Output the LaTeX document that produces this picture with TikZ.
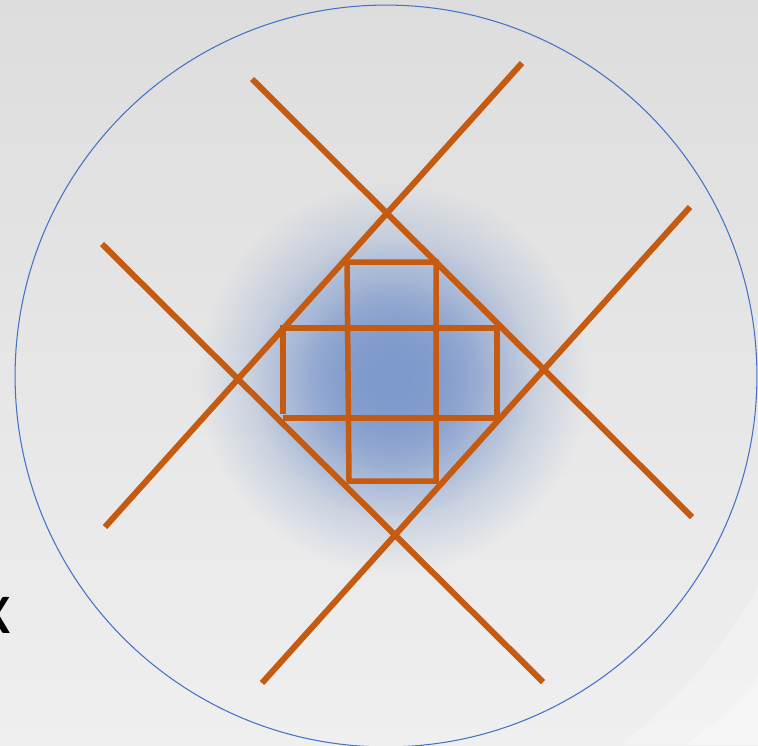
\documentclass[tikz,border=0pt]{standalone}
\usepackage{fontspec}
\setmainfont{Carlito}
\usetikzlibrary{fadings}

\definecolor{gridorange}{HTML}{C55A11}
\definecolor{ringblue}{HTML}{4472C4}
\definecolor{blobblue}{HTML}{7D99CC}
\definecolor{bgtop}{HTML}{DDDDDD}
\definecolor{bgbottom}{HTML}{EFEFEF}

% soft edge of the blue blob
\tikzfading[name=blobfade, inner color=transparent!0, outer color=transparent!100]

\begin{document}
\begin{tikzpicture}[x=0.02cm, y=-0.02cm,
    diag/.style={draw=gridorange, line width=0.12cm},
    cell/.style={draw=gridorange, line width=0.11cm, miter limit=4},
    ring/.style={draw=ringblue, line width=0.6pt}]
			\useasboundingbox (0,0) rectangle (758,745);
			\shade[top color=bgtop, bottom color=bgbottom] (0,0) rectangle (758,745);
			\fill[white, opacity=0.25] (620,745) .. controls (680,700) and (730,640) .. (758,585) -- (758,745) -- cycle;
			\fill[white, opacity=0.25] (685,745) .. controls (720,720) and (745,700) .. (758,675) -- (758,745) -- cycle;
			\node[anchor=base east, inner sep=0pt, font=\fontsize{43}{43}\selectfont](X) at (12, 633){x};
			\fill[blobblue, path fading=blobfade] (393, 378) circle (3.9cm);
			\fill[blobblue, path fading=blobfade, fill opacity=0.8] (393, 378) circle (2.8cm);
			\fill[blobblue, path fading=blobfade, fill opacity=0.8] (393, 378) circle (1.9cm);
			\draw[ring] (386, 376) circle (7.42cm);
			\coordinate (A1) at (252, 79);  \coordinate (A2) at (692, 517);
			\coordinate (B1) at (102, 244); \coordinate (B2) at (543, 682);
			\coordinate (C1) at (522, 63);  \coordinate (C2) at (105, 527);
			\coordinate (D1) at (690, 207); \coordinate (D2) at (262, 683);
			\draw[diag] (A1) -- (A2);
			\draw[diag] (B1) -- (B2);
			\draw[diag] (C1) -- (C2);
			\draw[diag] (D1) -- (D2);
			\draw[cell] (347, 262) -- (436, 262) -- (436, 481) -- (349, 481) -- cycle;
			\draw[cell] (283, 414) -- (283, 328) -- (497, 328) -- (497, 418) -- (283, 418);
		\end{tikzpicture}
\end{document}
